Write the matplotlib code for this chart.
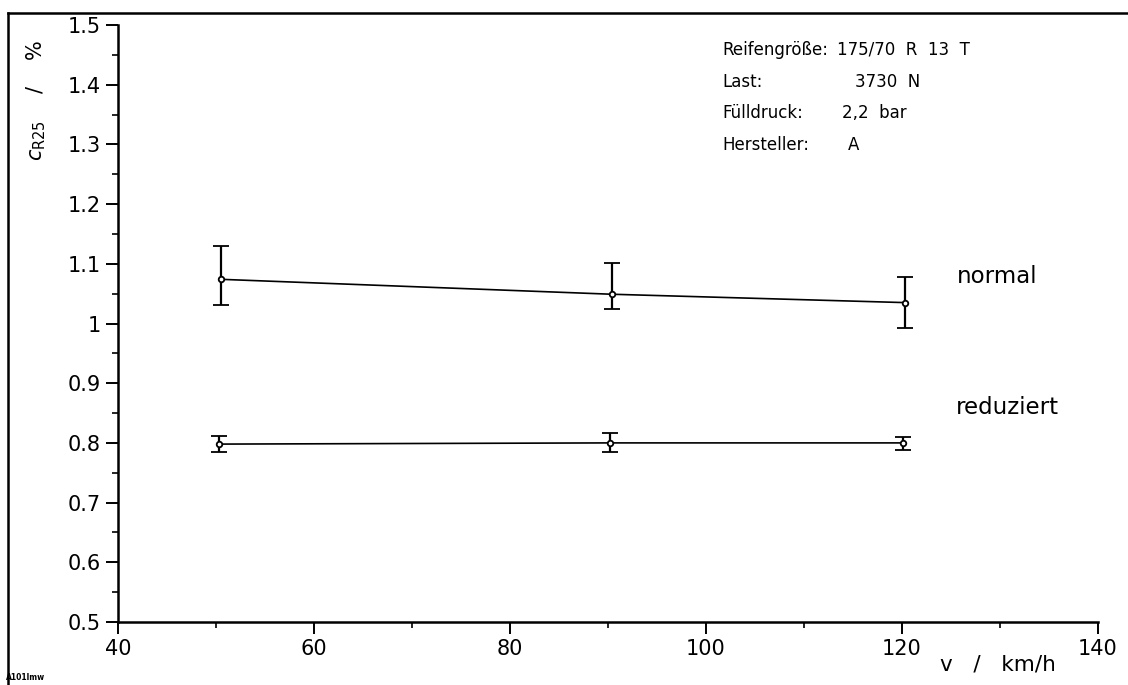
"""Rolling resistance coefficient vs. speed for two inflation pressures."""

import matplotlib
matplotlib.use("Agg")
import matplotlib.pyplot as plt
from matplotlib.lines import Line2D
from matplotlib.ticker import MultipleLocator, FixedLocator, FixedFormatter

# ---------------------------------------------------------------------------
# Data
# ---------------------------------------------------------------------------

speed_normal = [50.5, 90.4, 120.3]
c_normal = [1.074, 1.049, 1.035]
c_normal_low = [1.031, 1.025, 0.992]
c_normal_high = [1.130, 1.101, 1.078]

speed_reduced = [50.3, 90.2, 120.1]
c_reduced = [0.798, 0.800, 0.800]
c_reduced_low = [0.785, 0.785, 0.788]
c_reduced_high = [0.812, 0.817, 0.810]

y_ticks = [0.5, 0.6, 0.7, 0.8, 0.9, 1.0, 1.1, 1.2, 1.3, 1.4, 1.5]
y_tick_labels = ["0.5", "0.6", "0.7", "0.8", "0.9", "1", "1.1", "1.2", "1.3", "1.4", "1.5"]
x_ticks = [40, 60, 80, 100, 120, 140]

info_keys = ["Reifengröße:", "Last:", "Fülldruck:", "Hersteller:"]
info_values = ["175/70  R  13  T", "3730  N", "2,2  bar", "A"]

W, H = 1128, 685


def fx(px):
    return px / W


def fy(py):
    return 1 - py / H


plt.rcParams["font.family"] = "DejaVu Sans"

fig = plt.figure(figsize=(W / 100, H / 100), dpi=100)
ax = fig.add_axes([fx(118), fy(622), fx(1098) - fx(118), fy(25) - fy(622)])


def draw_series(x, y, lo, hi):
    yerr = [[v - l for v, l in zip(y, lo)], [h - v for v, h in zip(y, hi)]]
    ax.errorbar(
        x, y, yerr=yerr,
        color="black", lw=1.2, elinewidth=1.6, capsize=6, capthick=1.6,
        marker="o", ms=4, mfc="white", mec="black", mew=1.3,
    )


draw_series(speed_normal, c_normal, c_normal_low, c_normal_high)
draw_series(speed_reduced, c_reduced, c_reduced_low, c_reduced_high)

ax.set_xlim(40, 140)
ax.set_ylim(0.5, 1.5)
for side in ("top", "right"):
    ax.spines[side].set_visible(False)
for side in ("left", "bottom"):
    ax.spines[side].set_linewidth(1.8)

ax.xaxis.set_major_locator(FixedLocator(x_ticks))
ax.xaxis.set_minor_locator(MultipleLocator(10))
ax.yaxis.set_major_locator(FixedLocator(y_ticks))
ax.yaxis.set_major_formatter(FixedFormatter(y_tick_labels))
ax.yaxis.set_minor_locator(MultipleLocator(0.05))
ax.tick_params(which="major", direction="out", length=8.5, width=1.4,
               labelsize=15, pad=4)
ax.tick_params(which="minor", direction="out", length=4.5, width=1.2)

# axis titles
fig.text(fx(36), fy(100), r"$c_{\mathrm{R25}}$    /    %", rotation=90,
         ha="center", va="center", fontsize=15)
fig.text(fx(998), fy(664), "v   /   km/h", ha="center", va="center", fontsize=15.5)

# test conditions block
row_y = [50, 82, 113, 145]
value_x = [837, 855, 842, 848]
for key, val, py, vx in zip(info_keys, info_values, row_y, value_x):
    fig.text(fx(722), fy(py), key, ha="left", va="center", fontsize=12)
    fig.text(fx(vx), fy(py), val, ha="left", va="center", fontsize=12)

# series labels
fig.text(fx(957), fy(277), "normal", ha="left", va="center", fontsize=16.5)
fig.text(fx(956), fy(407), "reduziert", ha="left", va="center", fontsize=16.5)

# sheet frame and drawing id
fig.add_artist(Line2D([fx(8), fx(8)], [fy(13), 0], color="black", lw=1.8))
fig.add_artist(Line2D([fx(8), 1], [fy(13), fy(13)], color="black", lw=1.8))
fig.text(fx(6), fy(678), "A101lmw", ha="left", va="center", fontsize=5.5,
         fontweight="bold")

fig.savefig("out.png", dpi=100)
plt.close(fig)
